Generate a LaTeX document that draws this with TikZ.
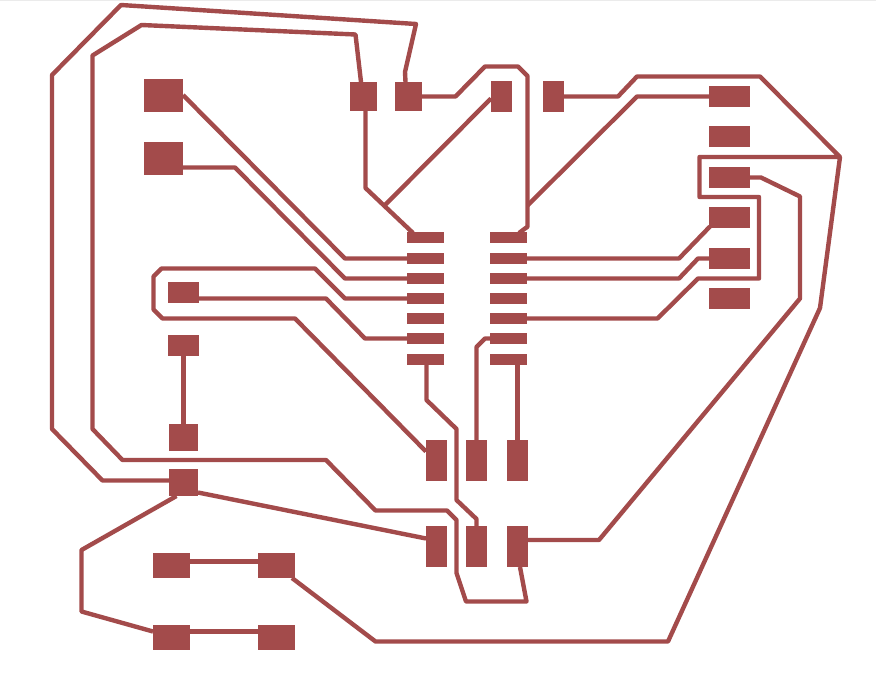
\documentclass[tikz,border=0pt]{standalone}
\usetikzlibrary{calc}
\definecolor{copper}{RGB}{163,75,75}
\tikzset{
	trace/.style={draw=copper,line width=3.3pt,line join=round},
	pad/.style={fill=copper,inner sep=0,outer sep=0},
	bigpad/.style={pad,minimum width=29.25pt,minimum height=24.75pt},
	sqpad/.style={pad,minimum width=20.25pt,minimum height=21.75pt},
	tallpad/.style={pad,minimum width=15.75pt,minimum height=23.25pt},
	connpad/.style={pad,minimum width=30.75pt,minimum height=15.75pt},
	legpad/.style={pad,minimum width=27.75pt,minimum height=8.25pt},
	smallpad/.style={pad,minimum width=23.25pt,minimum height=15.75pt},
	ledpad/.style={pad,minimum width=21.75pt,minimum height=20.25pt},
	swpad/.style={pad,minimum width=27.75pt,minimum height=18.75pt},
	hdrpad/.style={pad,minimum width=15.75pt,minimum height=30.75pt}
}

\begin{document}
\begin{tikzpicture}[x=0.75pt,y=-0.75pt]
	\useasboundingbox (0,0) rectangle (876,685);
	\fill[black!8] (0,0) rectangle (876,1);

	% pads.
	\node[bigpad] (big1) at (163.5,95.5) {};
	\node[bigpad] (big2) at (163.5,158.5) {};
	\node[sqpad] (topa) at (363.5,96.5) {};
	\node[sqpad] (topb) at (408.5,96.5) {};
	\node[tallpad] (topc) at (501.5,96.5) {};
	\node[tallpad] (topd) at (553.5,96.5) {};
	\foreach \i/\y in {1/96.5,2/136.5,3/177.5,4/217.5,5/258.5,6/298.5}
		\node[connpad] (conn\i) at (729.5,\y) {};
	\foreach \i/\y in {1/237.5,2/258.5,3/278.5,4/298.5,5/318.5,6/338.5,7/359.5} {
		\node[legpad] (icl\i) at (425.5,\y) {};
		\node[legpad] (icr\i) at (508.5,\y) {};
	}
	\node[smallpad] (res1) at (183.5,292.5) {};
	\node[smallpad] (res2) at (183.5,345.5) {};
	\node[ledpad] (led1) at (183.5,437.5) {};
	\node[ledpad] (led2) at (183.5,482.5) {};
	\node[swpad] (swa) at (171.5,565.5) {};
	\node[swpad] (swb) at (276.5,565.5) {};
	\node[swpad] (swc) at (171.5,637.5) {};
	\node[swpad] (swd) at (276.5,637.5) {};
	\foreach \i/\x in {1/436.5,2/476.5,3/517.5} {
		\node[hdrpad] (hdru\i) at (\x,460.5) {};
		\node[hdrpad] (hdrd\i) at (\x,546.5) {};
	}

	\coordinate (apex) at (840,157);
	\coordinate (tee) at (385,205);
	\coordinate (bus) at (527.5,205.5);

	% long routes around the board.
	\draw[trace] ($(topb.north)+(-3,0)$) -- (405,72) -- (416,24) -- (121,5) -- (52,75) -- (52,429) -- (102.5,480.5) -- ($(led2.west)+(0,-2)$);
	\draw[trace] ($(topa.north)+(-2.5,0)$) -- (355.5,34.5) -- (141.5,25) -- (92.5,55.5) -- (92.5,429) -- (122.5,460) -- (326,460) -- (375.5,510.5) -- (447,510.5) -- (456.5,520) -- (456.5,573) -- (466,601.5) -- (526.5,601.5) -- ($(hdrd3.south)+(2.5,0)$);
	\draw[trace] ($(topa.south)+(2,0)$) -- (365.5,188) -- (413,233);
	\draw[trace] (tee) -- ($(topc.west)+(0,2)$);
	\draw[trace] (topb.east) -- (455.5,96.5) -- (485,66.5) -- (518,66.5) -- (527.5,76) -- (527.5,226.7) -- (519,233);
	\draw[trace] (bus) -- (637,96.5) -- (conn1.west);
	\draw[trace] (topd.east) -- (618,96.5) -- (637,76.5) -- (760,76.5) -- (apex) -- (699.5,157) -- (699.5,197) -- (759,197) -- (759,278.5) -- (698,278.5) -- (657.5,318.5) -- (icr5.east);
	\draw[trace] (apex) -- (820,308) -- (668,641.5) -- (375.5,641.5) -- ($(swb.south east)+(-3,0)$);
	\draw[trace] (conn3.east) -- (761,177.5) -- (800,196.5) -- (800,298.5) -- (599,540) -- ($(hdrd3.east)+(0,-6.5)$);

	% chip to connector.
	\draw[trace] (icr2.east) -- (679,258.5) -- ($(conn4.south west)+(1,-1.5)$);
	\draw[trace] (icr3.east) -- (679,278.5) -- (698,258.5) -- (conn5.west);

	% chip to the left side.
	\draw[trace] ($(big1.east)+(0,-0.5)$) -- (345,258.5) -- (icl2.west);
	\draw[trace] ($(big2.east)+(0,9)$) -- (235,167.5) -- (345,278.5) -- (icl3.west);
	\draw[trace] ($(res1.east)+(0,6)$) -- (326,298.5) -- (365,338.5) -- (icl6.west);
	\draw[trace] (icl4.west) -- (345,298.5) -- (315,268.5) -- (161.5,268.5) -- (153.5,276.5) -- (153.5,309.5) -- (162.5,318.5) -- (295,318.5) -- ($(hdru1.west)+(0,-9)$);
	\draw[trace] (res2.south) -- (led1.north);

	% chip to the headers.
	\draw[trace] ($(icl7.south)+(1,0)$) -- (426.5,400) -- (456.5,429) -- (456.5,500) -- (476.5,519) -- (hdrd2.north);
	\draw[trace] (hdru2.north) -- (476.5,347) -- (485,338.5) -- (icr6.west);
	\draw[trace] (icr7.south) ++(9,0) -- (hdru3.north);

	% led and switches.
	\draw[trace] ($(led2.south)+(-7,0)$) -- (81.5,550) -- (81.5,611.5) -- ($(swc.west)+(0,-6)$);
	\draw[trace] ($(led2.east)+(0,10)$) -- ($(hdrd1.west)+(0,-8)$);
	\draw[trace] ($(swa.east)+(0,-4)$) -- ($(swb.west)+(0,-4)$);
	\draw[trace] ($(swc.east)+(0,-6)$) -- ($(swd.west)+(0,-6)$);
\end{tikzpicture}
\end{document}
